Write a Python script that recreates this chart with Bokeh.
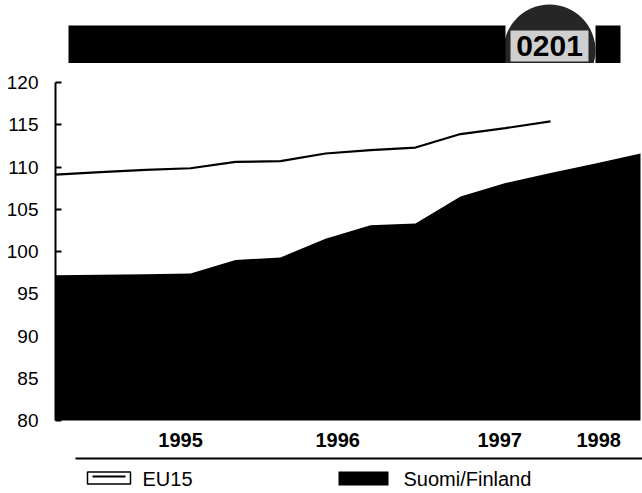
from bokeh.plotting import figure
from bokeh.models import Range1d, FixedTicker, LinearAxis
from bokeh.core.properties import value
from bokeh.embed import file_html
from bokeh.resources import INLINE

# ---- data (quarterly index values) ----
quarters = list(range(14))
finland = [97.2, 97.25, 97.3, 97.4, 99.0, 99.3, 101.5, 103.1, 103.3, 106.5,
           108.1, 109.3, 110.4, 111.6]
eu15_quarters = list(range(12))
eu15 = [109.1, 109.4, 109.65, 109.85, 110.6, 110.7, 111.6, 112.0, 112.3,
        113.9, 114.6, 115.4]
year_tick_pos = [2.78, 6.27, 9.87, 12.07]
year_labels = ["1995", "1996", "1997", "1998"]
y_ticks = [80, 85, 90, 95, 100, 105, 110, 115, 120]
badge_text = "0201"
legend_labels = ["EU15", "Suomi/Finland"]

FONT = "Liberation Sans"

# layout helpers: convert page pixels to data coordinates of the frame
X0_PX, X_STEP = 55.0, 45.0
Y120_PX, Y_PER = 82.0, 8.45
W, H = 642, 493


def dx(px):
    return (px - X0_PX) / X_STEP


def dy(py):
    return 120.0 - (py - Y120_PX) / Y_PER


p = figure(width=W, height=H,
           x_range=Range1d(dx(55), dx(W)),
           y_range=Range1d(dy(H), dy(0)),
           output_backend="svg", toolbar_location=None,
           x_axis_location=None, y_axis_location=None,
           min_border_left=55, min_border_right=0,
           min_border_top=0, min_border_bottom=0)
p.outline_line_color = None
p.background_fill_color = "white"
p.border_fill_color = "white"
p.xgrid.visible = False
p.ygrid.visible = False

# y axis
yaxis = LinearAxis(ticker=FixedTicker(ticks=y_ticks), bounds=(80, 120))
yaxis.axis_line_width = 2
yaxis.axis_line_color = "black"
yaxis.major_tick_in = 6
yaxis.major_tick_out = 0
yaxis.major_tick_line_width = 2
yaxis.minor_tick_line_color = None
yaxis.major_label_standoff = 17
yaxis.major_label_text_font = FONT
yaxis.major_label_text_font_size = "19px"
yaxis.major_label_text_color = "black"
p.add_layout(yaxis, "left")

# x axis (year labels) fixed at the 80 baseline
xaxis = LinearAxis(ticker=FixedTicker(ticks=year_tick_pos), fixed_location=80)
xaxis.major_label_overrides = {pos: lab for pos, lab in zip(year_tick_pos, year_labels)}
xaxis.axis_line_color = None
xaxis.major_tick_line_color = None
xaxis.minor_tick_line_color = None
xaxis.major_label_standoff = 6
xaxis.major_label_text_font = FONT
xaxis.major_label_text_font_style = "bold"
xaxis.major_label_text_font_size = "20px"
xaxis.major_label_text_color = "black"
p.add_layout(xaxis, "below")

# ---- data marks ----
p.varea(x=quarters, y1=[80] * len(quarters), y2=finland, fill_color="black")
p.line(x=eu15_quarters, y=eu15, line_color="black", line_width=2.2)

# ---- title bar with badge ----
p.scatter(x=[dx(549)], y=[dy(50)], size=92, marker="circle",
          fill_color="#262626", line_color=None)
p.quad(left=[dx(498)], right=[dx(602)], top=[dy(62.5)], bottom=[dy(100)],
       fill_color="white", line_color=None)
p.quad(left=[dx(68), dx(595)], right=[dx(505), dx(620)],
       top=[dy(25), dy(25)], bottom=[dy(62.5), dy(62.5)],
       fill_color="black", line_color=None)
p.quad(left=[dx(510)], right=[dx(588)], top=[dy(30)], bottom=[dy(61)],
       fill_color="#cfcfcf", line_color=None)
p.text(x=[dx(549)], y=[dy(45)], text=[badge_text], text_font=value(FONT),
       text_font_style="bold", text_font_size="30px", text_color="black",
       text_align="center", text_baseline="middle")

# ---- legend ----
p.segment(x0=[dx(75)], y0=[dy(458)], x1=[dx(642)], y1=[dy(458)],
          line_color="black", line_width=2)
p.quad(left=[dx(87)], right=[dx(130)], top=[dy(471.5)], bottom=[dy(483.5)],
       fill_color="white", line_color="black", line_width=1.5)
p.segment(x0=[dx(92)], y0=[dy(476)], x1=[dx(125)], y1=[dy(476)],
          line_color="black", line_width=2)
p.quad(left=[dx(338)], right=[dx(388)], top=[dy(471)], bottom=[dy(485)],
       fill_color="black", line_color=None)
p.text(x=[dx(142), dx(403)], y=[dy(478), dy(478)], text=legend_labels,
       text_font=value(FONT), text_font_size="20px", text_color="black",
       text_align="left", text_baseline="middle")

open("out.html", "w").write(file_html(p, INLINE))
